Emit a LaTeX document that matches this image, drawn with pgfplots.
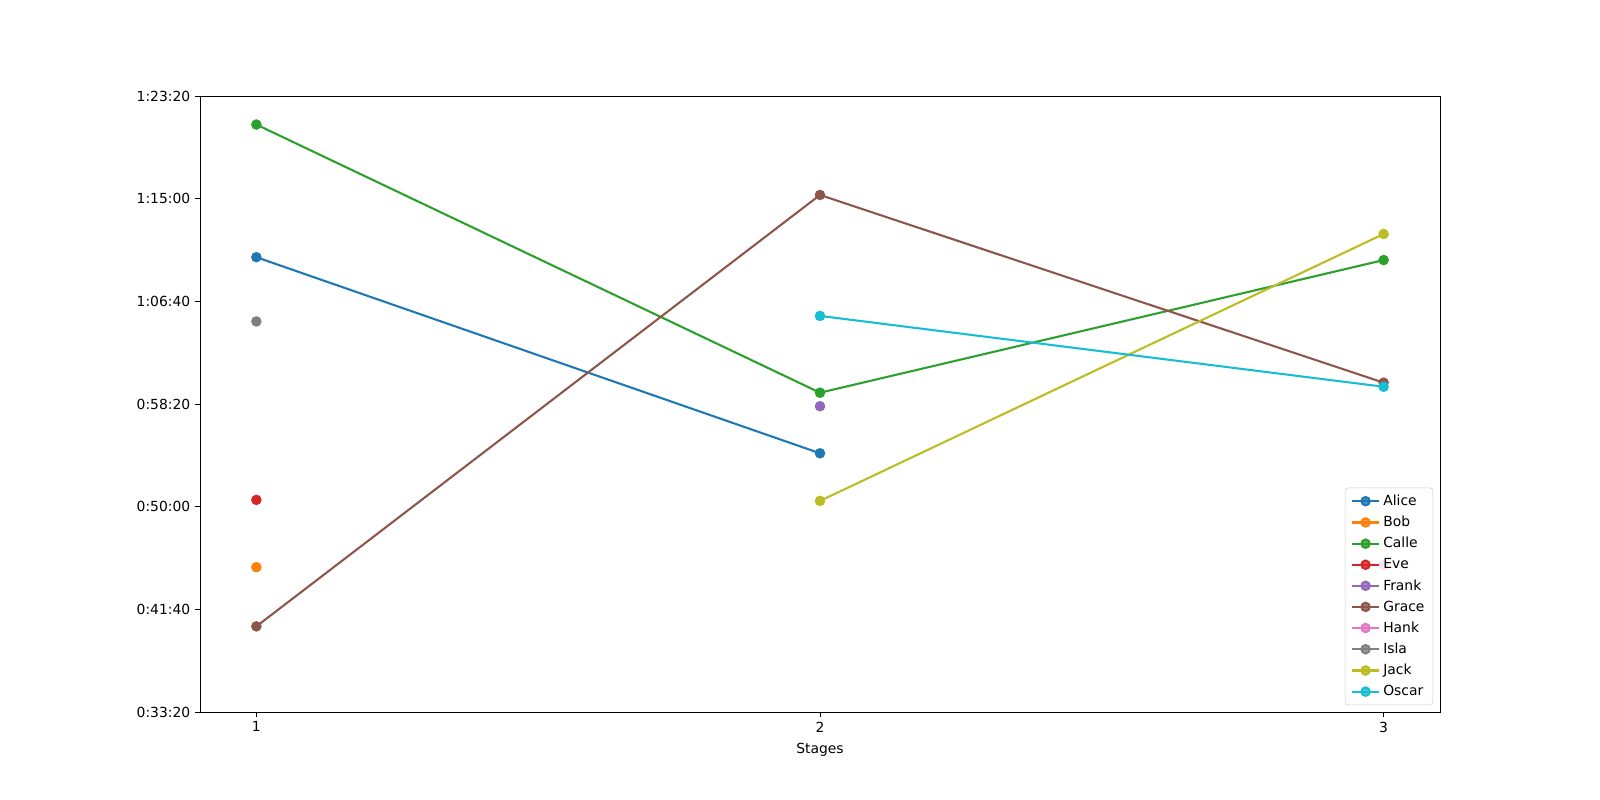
\documentclass[border=0pt]{standalone}
\usepackage{fontspec}
\setmainfont{DejaVu Sans}
\usepackage{pgfplots}
\pgfplotsset{compat=1.18}
\definecolor{c0}{HTML}{1F77B4}
\definecolor{c1}{HTML}{FF7F0E}
\definecolor{c2}{HTML}{2CA02C}
\definecolor{c3}{HTML}{D62728}
\definecolor{c4}{HTML}{9467BD}
\definecolor{c5}{HTML}{8C564B}
\definecolor{c6}{HTML}{E377C2}
\definecolor{c7}{HTML}{7F7F7F}
\definecolor{c8}{HTML}{BCBD22}
\definecolor{c9}{HTML}{17BECF}
\begin{document}
\fontsize{10pt}{12pt}\selectfont
\begin{tikzpicture}
\path[use as bounding box] (-144pt,-63.36pt) rectangle (1008pt,512.64pt);
\begin{axis}[
  at={(0,0)}, anchor=south west,
  scale only axis, width=892.8pt, height=443.52pt,
  xmin=0.9, xmax=3.1, ymin=2000, ymax=5000,
  xtick={1,2,3}, xticklabels={1,2,3},
  ytick={2000,2500,3000,3500,4000,4500,5000},
  yticklabels={0:33:20,0:41:40,0:50:00,0:58:20,1:06:40,1:15:00,1:23:20},
  tick align=outside, tick pos=left,
  major tick length=3.5pt,
  every tick/.style={black, line width=0.6pt},
  axis line style={line width=0.6pt},
  tick label style={font=\fontsize{10pt}{12pt}\selectfont},
  xlabel={Stages},
  label style={font=\fontsize{10pt}{12pt}\selectfont},
  xlabel style={yshift=-1pt},
  /pgf/number format/assume math mode=true,
  every axis plot/.append style={line width=1.5pt, mark=*, mark size=3pt, mark options={solid}},
  legend cell align=left,
  legend style={at={(1,0)}, anchor=south east, xshift=-5pt, yshift=5pt,
    draw={rgb,255:red,204;green,204;blue,204}, fill=white, fill opacity=0.8, text opacity=1,
    rounded corners=2pt, font=\fontsize{10pt}{12pt}\selectfont,
    row sep=2.2pt, inner xsep=4pt, inner ysep=3pt},
  legend image code/.code={\draw[mark repeat=2,mark phase=2] plot coordinates {(0pt,0pt)(10pt,0pt)(20pt,0pt)};},
]
\addplot[c0, mark options={fill=c0, draw=c0}] coordinates {(1,4215) (2,3260)};
\addlegendentry{Alice}
\addplot[c1, mark options={fill=c1, draw=c1}] coordinates {(1,2705)};
\addlegendentry{Bob}
\addplot[c2, mark options={fill=c2, draw=c2}] coordinates {(1,4861) (2,3555) (3,4201)};
\addlegendentry{Calle}
\addplot[c3, mark options={fill=c3, draw=c3}] coordinates {(1,3033)};
\addlegendentry{Eve}
\addplot[c4, mark options={fill=c4, draw=c4}] coordinates {(2,3489)};
\addlegendentry{Frank}
\addplot[c5, mark options={fill=c5, draw=c5}] coordinates {(1,2417) (2,4518) (3,3604)};
\addlegendentry{Grace}
\addplot[c6, mark options={fill=c6, draw=c6}] coordinates {(3,2716)};
\addlegendentry{Hank}
\addplot[c7, mark options={fill=c7, draw=c7}] coordinates {(1,3902)};
\addlegendentry{Isla}
\addplot[c8, mark options={fill=c8, draw=c8}] coordinates {(2,3028) (3,4328)};
\addlegendentry{Jack}
\addplot[c9, mark options={fill=c9, draw=c9}] coordinates {(2,3929) (3,3584)};
\addlegendentry{Oscar}
\end{axis}
\end{tikzpicture}
\end{document}
